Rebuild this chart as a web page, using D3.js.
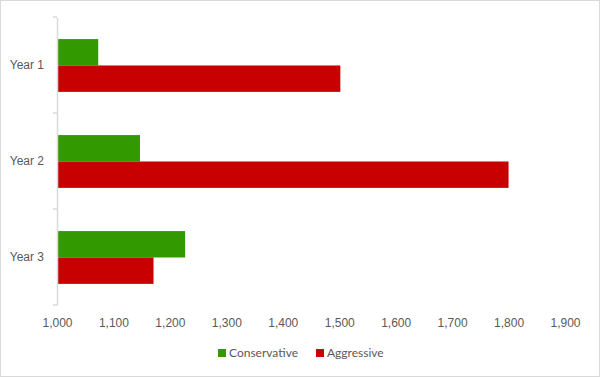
<!DOCTYPE html>
<html>
<head>
<meta charset="utf-8">
<script src="https://cdn.jsdelivr.net/npm/d3@7"></script>
<style>
  body { margin: 0; background: #fff; }
  #chart { width: 600px; height: 377px; }
  svg { display: block; font-family: Lato, "Open Sans", sans-serif; }
</style>
</head>
<body>
<div id="chart"></div>
<script>
const categories = ['Year 1', 'Year 2', 'Year 3'];
const seriesNames = ['Conservative', 'Aggressive'];
const conservative = [1073, 1147, 1227];
const aggressive = [1502, 1800, 1171];
const xTicks = [1000, 1100, 1200, 1300, 1400, 1500, 1600, 1700, 1800, 1900];

const colors = { Conservative: '#339900', Aggressive: '#c80000' };

const width = 600, height = 377;
const margin = { top: 17, right: 35, bottom: 72, left: 57 };
const innerW = width - margin.left - margin.right;
const innerH = height - margin.top - margin.bottom;

const rows = categories.map((c, i) => ({
  cat: c,
  values: [
    { key: 'Conservative', value: conservative[i] },
    { key: 'Aggressive', value: aggressive[i] }
  ]
}));

const svg = d3.select('#chart').append('svg')
  .attr('width', width)
  .attr('height', height);

svg.append('rect')
  .attr('x', 0.5).attr('y', 0.5)
  .attr('width', width - 1).attr('height', height - 1)
  .attr('fill', '#fff')
  .attr('stroke', '#d9d9d9');

const chart = svg.append('g')
  .attr('transform', `translate(${margin.left},${margin.top})`);

const xScale = d3.scaleLinear()
  .domain([1000, 1900])
  .range([0, 508]);

const yScale = d3.scaleBand()
  .domain(categories)
  .range([0, innerH])
  .paddingInner(0)
  .paddingOuter(0);

const inner = d3.scaleBand()
  .domain(seriesNames)
  .range([yScale.bandwidth() * 0.23, yScale.bandwidth() * 0.78]);

// bars
const groups = chart.selectAll('.grp')
  .data(rows)
  .join('g')
  .attr('class', 'grp')
  .attr('transform', d => `translate(0,${yScale(d.cat)})`);

groups.selectAll('rect')
  .data(d => d.values)
  .join('rect')
  .attr('x', xScale(1000))
  .attr('y', d => inner(d.key))
  .attr('width', d => xScale(d.value) - xScale(1000))
  .attr('height', inner.bandwidth())
  .attr('fill', d => colors[d.key]);

// y axis
const yAxisG = chart.append('g')
  .call(d3.axisLeft(yScale).tickSize(0).tickPadding(13));
yAxisG.select('.domain')
  .attr('stroke', '#d9d9d9')
  .attr('stroke-width', 1.5);
yAxisG.selectAll('text')
  .attr('fill', '#595959')
  .attr('font-size', 12);

// boundary ticks on the category axis
chart.selectAll('.btick')
  .data(d3.range(categories.length + 1))
  .join('line')
  .attr('class', 'btick')
  .attr('x1', -4).attr('x2', 0)
  .attr('y1', i => i * yScale.step())
  .attr('y2', i => i * yScale.step())
  .attr('stroke', '#d9d9d9')
  .attr('stroke-width', 1.5);

// x axis labels
const xAxisG = chart.append('g')
  .attr('transform', `translate(0,${innerH})`)
  .call(d3.axisBottom(xScale).tickValues(xTicks).tickSize(0).tickPadding(13)
    .tickFormat(d3.format(',')));
xAxisG.select('.domain').remove();
xAxisG.selectAll('text')
  .attr('fill', '#595959')
  .attr('font-size', 12);

// legend
const legend = svg.append('g')
  .attr('transform', 'translate(218,349)');
const legendX = [0, 98];
seriesNames.forEach((name, i) => {
  const g = legend.append('g').attr('transform', `translate(${legendX[i]},0)`);
  g.append('rect')
    .attr('width', 8).attr('height', 8)
    .attr('fill', colors[name]);
  g.append('text')
    .attr('x', 11).attr('y', 4)
    .attr('dy', '0.35em')
    .attr('font-size', 12)
    .attr('fill', '#595959')
    .text(name);
});
</script>
</body>
</html>
